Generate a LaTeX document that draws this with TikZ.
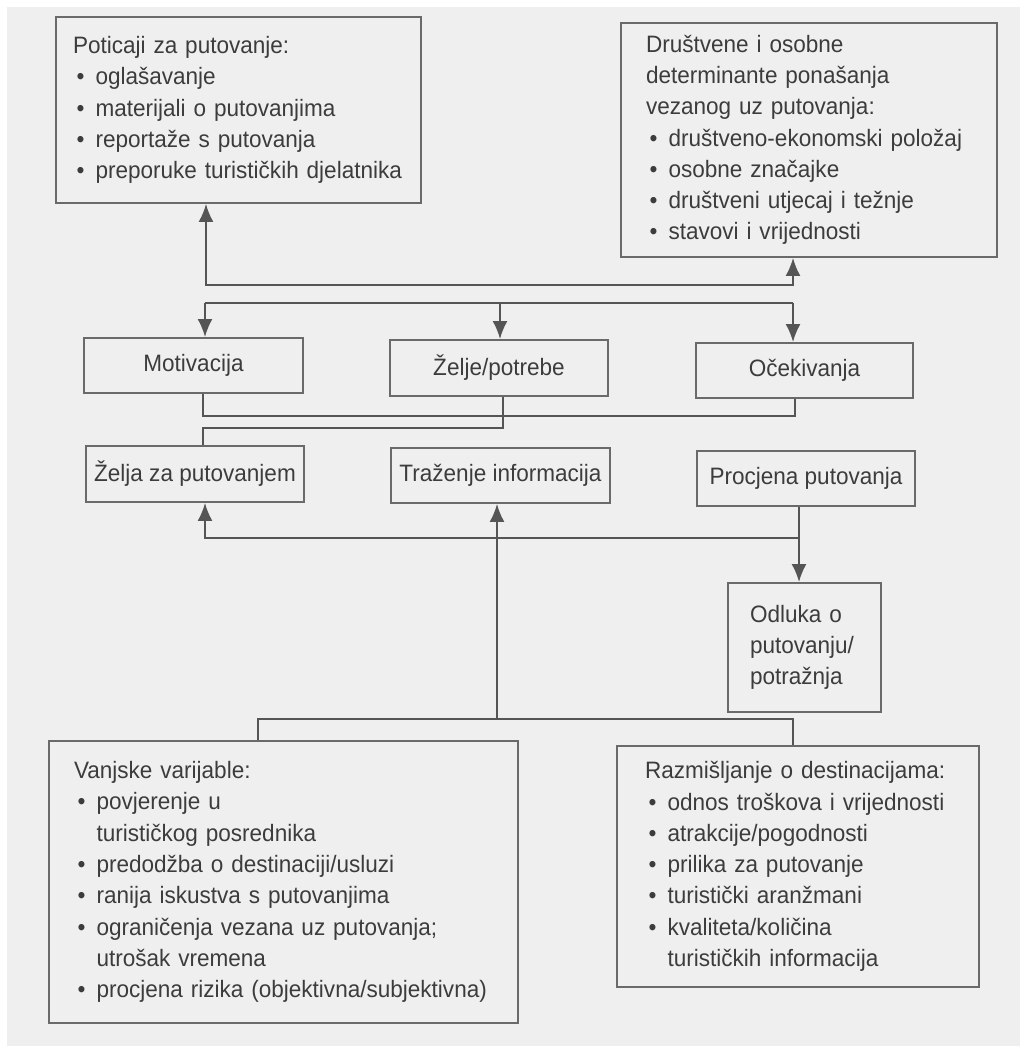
\documentclass[tikz,border=0pt]{standalone}
\usepackage{fontspec}
\setmainfont{Liberation Sans}[FakeStretch=0.95]
\usetikzlibrary{arrows.meta}
\pgfdeclarelayer{bglayer}
\pgfdeclarelayer{nodelayer}
\pgfdeclarelayer{edgelayer}
\pgfsetlayers{bglayer,edgelayer,nodelayer,main}
\definecolor{paper}{HTML}{EFEFEF}
\definecolor{boxgrey}{HTML}{6A6A6A}
\definecolor{linegrey}{HTML}{555555}
\definecolor{textgrey}{HTML}{3C3C3C}
\newcommand{\boxfont}{\fontsize{13.5}{17.8}\selectfont}
\newcommand{\itembul}{\hspace*{0.15em}\makebox[0.8em][l]{\textbullet}}
\newcommand{\itemcont}{\hspace*{0.95em}}
\tikzstyle{list box}=[draw=boxgrey, line width=1.1pt, shape=rectangle, align=left, text=textgrey, font=\boxfont, inner ysep=0pt]
\tikzstyle{label box}=[draw=boxgrey, line width=1.1pt, shape=rectangle, align=center, text=textgrey, font=\boxfont]
\tikzstyle{none}=[draw=none, fill=none, inner sep=0pt, minimum size=0pt]
\tikzstyle{plain edge}=[draw=linegrey, line width=1.1pt]
\tikzstyle{arrow edge}=[draw=linegrey, line width=1.1pt, -{Latex[length=0.36cm, width=0.30cm]}]
\tikzstyle{double arrow edge}=[draw=linegrey, line width=1.1pt, {Latex[length=0.36cm, width=0.30cm]}-{Latex[length=0.36cm, width=0.30cm]}]

\begin{document}
\begin{tikzpicture}
	\useasboundingbox (0, 0) rectangle (20.58, 21.08);
	\begin{pgfonlayer}{bglayer}
		\fill [white] (0, 0) rectangle (20.58, 21.08);
		\fill [paper] (0.14, 0.16) rectangle (20.40, 20.94);
	\end{pgfonlayer}
	\begin{pgfonlayer}{nodelayer}
		\node [style=list box, minimum width=7.30cm, minimum height=3.72cm, text width=6.62cm, inner xsep=0.34cm] (0) at (4.77, 18.88) {Poticaji za putovanje:\\
			\itembul oglašavanje\\
			\itembul materijali o putovanjima\\
			\itembul reportaže s putovanja\\
			\itembul preporuke turističkih djelatnika};
		\node [style=list box, minimum width=7.52cm, minimum height=4.68cm, text width=6.52cm, inner xsep=0.50cm] (1) at (16.18, 18.28) {Društvene i osobne\\
			determinante ponašanja\\
			vezanog uz putovanja:\\
			\itembul društveno-ekonomski položaj\\
			\itembul osobne značajke\\
			\itembul društveni utjecaj i težnje\\
			\itembul stavovi i vrijednosti};
		\node [style=label box, minimum width=4.38cm, minimum height=1.10cm] (2) at (3.87, 13.77) {Motivacija};
		\node [style=label box, minimum width=4.36cm, minimum height=1.12cm] (3) at (9.98, 13.72) {Želje/potrebe};
		\node [style=label box, minimum width=4.34cm, minimum height=1.10cm] (4) at (16.09, 13.67) {Očekivanja};
		\node [style=label box, minimum width=4.36cm, minimum height=1.12cm] (5) at (3.90, 11.60) {Želja za putovanjem};
		\node [style=label box, minimum width=4.38cm, minimum height=1.10cm] (6) at (10.01, 11.57) {Traženje informacija};
		\node [style=label box, minimum width=4.36cm, minimum height=1.10cm] (7) at (16.12, 11.51) {Procjena putovanja};
		\node [style=list box, minimum width=3.06cm, minimum height=2.58cm, text width=2.18cm, inner xsep=0.44cm] (8) at (16.09, 8.13) {Odluka o\\
			putovanju/\\
			potražnja};
		\node [style=list box, minimum width=9.38cm, minimum height=5.64cm, text width=8.38cm, inner xsep=0.50cm] (9) at (5.67, 3.44) {Vanjske varijable:\\
			\itembul povjerenje u\\
			\itemcont turističkog posrednika\\
			\itembul predodžba o destinaciji/usluzi\\
			\itembul ranija iskustva s putovanjima\\
			\itembul ograničenja vezana uz putovanja;\\
			\itemcont utrošak vremena\\
			\itembul procjena rizika (objektivna/subjektivna)};
		\node [style=list box, minimum width=7.24cm, minimum height=4.82cm, text width=6.12cm, inner xsep=0.56cm] (10) at (15.96, 3.75) {Razmišljanje o destinacijama:\\
			\itembul odnos troškova i vrijednosti\\
			\itembul atrakcije/pogodnosti\\
			\itembul prilika za putovanje\\
			\itembul turistički aranžmani\\
			\itembul kvaliteta/količina\\
			\itemcont turističkih informacija};
		\node [style=none] (11) at (4.12, 15.38) {};
		\node [style=none] (12) at (15.86, 15.38) {};
		\node [style=none] (13) at (4.10, 15.02) {};
		\node [style=none] (14) at (10.00, 15.02) {};
		\node [style=none] (15) at (15.86, 15.02) {};
		\node [style=none] (16) at (4.06, 12.76) {};
		\node [style=none] (17) at (15.90, 12.76) {};
		\node [style=none] (18) at (10.06, 12.52) {};
		\node [style=none] (19) at (4.06, 12.52) {};
		\node [style=none] (20) at (15.98, 10.32) {};
		\node [style=none] (21) at (4.10, 10.32) {};
		\node [style=none] (22) at (9.94, 6.70) {};
		\node [style=none] (23) at (5.16, 6.70) {};
		\node [style=none] (24) at (15.86, 6.70) {};
	\end{pgfonlayer}
	\begin{pgfonlayer}{edgelayer}
		\draw [style=double arrow edge] (11.center |- 0.south) to (11.center) to (12.center) to (12.center |- 1.south);
		\draw [style=plain edge] (13.center) to (15.center);
		\draw [style=arrow edge] (13.center) to (13.center |- 2.north);
		\draw [style=arrow edge] (14.center) to (14.center |- 3.north);
		\draw [style=arrow edge] (15.center) to (15.center |- 4.north);
		\draw [style=plain edge] (16.center |- 2.south) to (16.center) to (17.center) to (17.center |- 4.south);
		\draw [style=plain edge] (18.center |- 3.south) to (18.center) to (19.center) to (19.center |- 5.north);
		\draw [style=arrow edge] (20.center |- 7.south) to (20.center) to (21.center) to (21.center |- 5.south);
		\draw [style=arrow edge] (20.center) to (20.center |- 8.north);
		\draw [style=arrow edge] (22.center) to (22.center |- 6.south);
		\draw [style=plain edge] (23.center |- 9.north) to (23.center) to (24.center) to (24.center |- 10.north);
	\end{pgfonlayer}
\end{tikzpicture}
\end{document}
